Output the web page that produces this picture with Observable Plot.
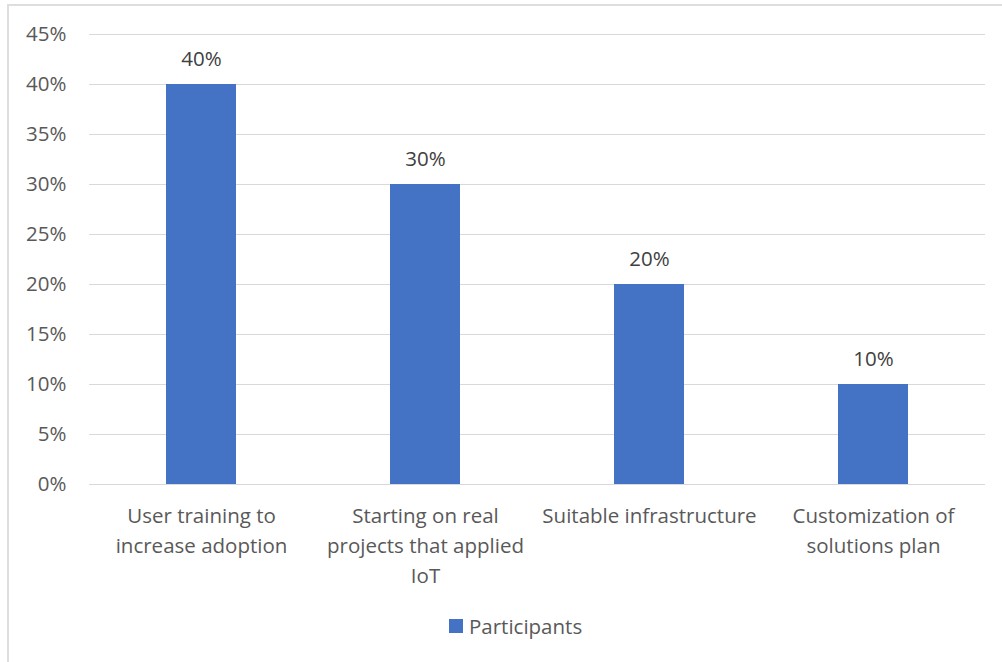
<!DOCTYPE html>
<html>
<head>
<meta charset="utf-8">
<script src="https://cdn.jsdelivr.net/npm/d3@7"></script>
<script src="https://cdn.jsdelivr.net/npm/@observablehq/plot@0.6"></script>
<style>
  html, body { margin: 0; padding: 0; background: #fff; }
  #wrap { position: relative; width: 1002px; height: 662px; overflow: hidden; font-family: "Open Sans", "Noto Sans", sans-serif; }
  #frame { position: absolute; left: 7px; top: 4px; width: 1010px; height: 680px; border: 2px solid #dedede; box-sizing: border-box; }
  #chart { position: absolute; left: 0; top: 0; }
  #legend { position: absolute; left: 449px; top: 611px; display: flex; align-items: center; font-size: 20.5px; line-height: 30px; color: #595959; }
  #legend .sw { width: 14px; height: 14px; background: #4472C4; margin-right: 6px; }
</style>
</head>
<body>
<div id="wrap">
  <div id="frame"></div>
  <div id="chart"></div>
  <div id="legend"><span class="sw"></span><span id="legendLabel"></span></div>
</div>
<script>
const categories = [
  "User training to increase adoption",
  "Starting on real projects that applied IoT",
  "Suitable infrastructure",
  "Customization of solutions plan"
];
const tickLabels = [
  "User training to\nincrease adoption",
  "Starting on real\nprojects that applied\nIoT",
  "Suitable infrastructure",
  "Customization of\nsolutions plan"
];
const participants = [0.40, 0.30, 0.20, 0.10];
const yTicks = [0, 0.05, 0.10, 0.15, 0.20, 0.25, 0.30, 0.35, 0.40, 0.45];
const seriesName = "Participants";

const data = categories.map((c, i) => ({category: c, value: participants[i]}));
const labelOf = new Map(categories.map((c, i) => [c, tickLabels[i]]));
const pct = d3.format(".0%");

const chart = Plot.plot({
  width: 1002,
  height: 662,
  marginLeft: 89,
  marginRight: 17,
  marginTop: 34,
  marginBottom: 178,
  style: { fontFamily: "'Open Sans', 'Noto Sans', sans-serif", background: "transparent", color: "#595959" },
  x: { domain: categories, paddingInner: 0.6875, paddingOuter: 0.34375, label: null },
  y: { domain: [0, 0.45], label: null },
  marks: [
    Plot.gridY(yTicks, { stroke: "#d9d9d9", strokeOpacity: 1, strokeWidth: 1 }),
    Plot.barY(data, { x: "category", y: "value", fill: "#4472C4" }),
    Plot.text(data, { x: "category", y: "value", text: d => pct(d.value), dy: -25, lineAnchor: "middle", fontSize: 20.5, fill: "#404040" }),
    Plot.axisY({ ticks: yTicks, tickFormat: pct, tickSize: 0, tickPadding: 23, fontSize: 20.5, fill: "#595959" }),
    Plot.axisX({ tickSize: 0, tickPadding: 17, fontSize: 20.5, lineHeight: 1.46, tickFormat: d => labelOf.get(d), fill: "#595959" })
  ]
});
document.getElementById("chart").appendChild(chart);
document.getElementById("legendLabel").textContent = seriesName;
</script>
</body>
</html>
